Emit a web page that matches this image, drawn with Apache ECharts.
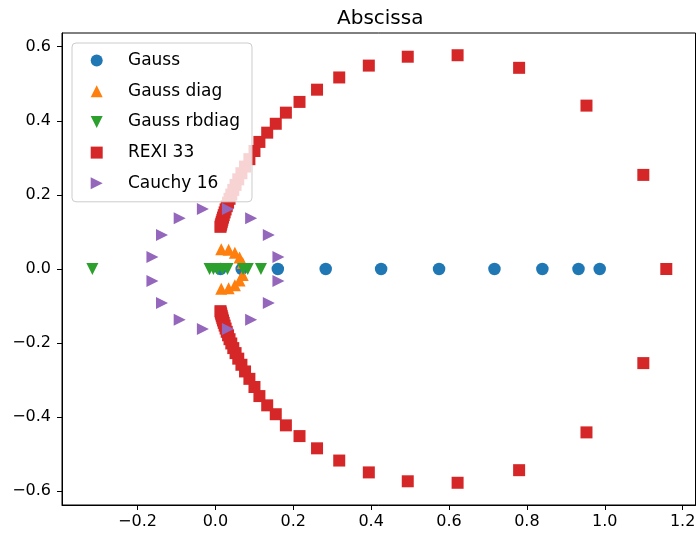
<!DOCTYPE html>
<html>
<head>
<meta charset="utf-8">
<script src="https://cdn.jsdelivr.net/npm/echarts@6/dist/echarts.min.js"></script>
<style>html,body{margin:0;padding:0;background:#fff;}#c{width:699px;height:534px;}</style>
</head>
<body>
<div id="c"></div>
<script>
// ---- data ----
const titleText = "Abscissa";
const seriesNames = ["Gauss", "Gauss diag", "Gauss rbdiag", "REXI 33", "Cauchy 16"];

const gaussX = [0.0130, 0.0675, 0.1603, 0.2833, 0.4256, 0.5744, 0.7167, 0.8397, 0.9325, 0.9870];
const gaussY = [0, 0, 0, 0, 0, 0, 0, 0, 0, 0];

const gaussDiagX = [0.015, 0.034, 0.050, 0.062, 0.070, 0.015, 0.034, 0.050, 0.062, 0.070];
const gaussDiagY = [0.053, 0.052, 0.044, 0.031, 0.016, -0.053, -0.052, -0.044, -0.031, -0.016];

const rbdiagX = [-0.316, -0.015, -0.005, 0.005, 0.018, 0.031, 0.071, 0.083, 0.117];
const rbdiagY = [0, 0, 0, 0, 0, 0, 0, 0, 0];

const rexiX = [1.158, 1.099, 0.953, 0.780, 0.622, 0.494, 0.394, 0.318, 0.261, 0.216, 0.181, 0.155, 0.133, 0.113,
  0.1003, 0.0873, 0.0761, 0.0668, 0.0587, 0.0518, 0.0459, 0.0408, 0.0363, 0.0325, 0.0291, 0.0262, 0.0237, 0.0214, 0.0195, 0.0178, 0.0163, 0.0151, 0.0139, 0.0130,
  1.099, 0.953, 0.780, 0.622, 0.494, 0.394, 0.318, 0.261, 0.216, 0.181, 0.155, 0.133, 0.113,
  0.1003, 0.0873, 0.0761, 0.0668, 0.0587, 0.0518, 0.0459, 0.0408, 0.0363, 0.0325, 0.0291, 0.0262, 0.0237, 0.0214, 0.0195, 0.0178, 0.0163, 0.0151, 0.0139, 0.0130];
const rexiY = [0, 0.254, 0.441, 0.543, 0.577, 0.573, 0.549, 0.517, 0.484, 0.451, 0.422, 0.392, 0.368, 0.343,
  0.3185, 0.2965, 0.2765, 0.2585, 0.242, 0.227, 0.2135, 0.201, 0.1895, 0.179, 0.1695, 0.1607, 0.1527, 0.1454, 0.1388, 0.1328, 0.1273, 0.1223, 0.1178, 0.1138,
  -0.254, -0.441, -0.543, -0.577, -0.573, -0.549, -0.517, -0.484, -0.451, -0.422, -0.392, -0.368, -0.343,
  -0.3185, -0.2965, -0.2765, -0.2585, -0.242, -0.227, -0.2135, -0.201, -0.1895, -0.179, -0.1695, -0.1607, -0.1527, -0.1454, -0.1388, -0.1328, -0.1273, -0.1223, -0.1178, -0.1138];

const cauchyX = [0.1618, 0.1372, 0.0917, 0.0322, -0.0322, -0.0917, -0.1372, -0.1618,
  -0.1618, -0.1372, -0.0917, -0.0322, 0.0322, 0.0917, 0.1372, 0.1618];
const cauchyY = [0.0322, 0.0917, 0.1372, 0.1618, 0.1618, 0.1372, 0.0917, 0.0322,
  -0.0322, -0.0917, -0.1372, -0.1618, -0.1618, -0.1372, -0.0917, -0.0322];

const xTicks = [-0.2, 0.0, 0.2, 0.4, 0.6, 0.8, 1.0, 1.2];
const yTicks = [-0.6, -0.4, -0.2, 0.0, 0.2, 0.4, 0.6];

// ---- chart ----
const FONT = "DejaVu Sans";
const zip = (xs, ys) => xs.map((x, i) => [x, ys[i]]);
const fmt = v => (Math.abs(v) < 1e-9 ? 0 : v).toFixed(1).replace('-', '\u2212');
const DOWN = 'path://M0,0L2,0L1,2Z';
const RIGHT = 'path://M0,0L2,1L0,2Z';
const legendIcons = ['circle', 'triangle', DOWN, 'rect', RIGHT];

const chart = echarts.init(document.getElementById('c'), null, {renderer: 'canvas'});
const option = {
  animation: false,
  backgroundColor: '#ffffff',
  title: {
    text: titleText, left: 332, top: 4,
    textStyle: {fontFamily: FONT, fontSize: 20, fontWeight: 'normal', color: '#000'}
  },
  grid: {left: 62, right: 3.5, top: 33, bottom: 29, show: true, borderColor: '#000', borderWidth: 1, backgroundColor: 'transparent'},
  legend: {
    orient: 'vertical', left: 72, top: 43,
    padding: [9, 12, 10, 18.7],
    itemWidth: 12, itemHeight: 12, itemGap: 13.7,
    backgroundColor: 'rgba(255,255,255,0.8)',
    borderColor: '#cccccc', borderWidth: 1, borderRadius: 4,
    textStyle: {fontFamily: FONT, fontSize: 17, color: '#000', lineHeight: 12, padding: [0, 0, 0, 20.3]},
    data: seriesNames.map((n, i) => ({name: n, icon: legendIcons[i]}))
  },
  xAxis: {
    type: 'value', min: -0.394, max: 1.233,
    axisLine: {show: true, onZero: false, lineStyle: {color: '#000'}},
    axisTick: {show: true, length: 5, inside: false, customValues: xTicks, lineStyle: {color: '#000'}},
    axisLabel: {customValues: xTicks, formatter: fmt, fontFamily: FONT, fontSize: 16, color: '#000', margin: 9},
    splitLine: {show: false}
  },
  yAxis: {
    type: 'value', min: -0.637, max: 0.637,
    axisLine: {show: true, onZero: false, lineStyle: {color: '#000'}},
    axisTick: {show: true, length: 5, inside: false, customValues: yTicks, lineStyle: {color: '#000'}},
    axisLabel: {customValues: yTicks, formatter: fmt, fontFamily: FONT, fontSize: 16, color: '#000', margin: 11},
    splitLine: {show: false}
  },
  series: [
    {name: seriesNames[0], type: 'scatter', data: zip(gaussX, gaussY), symbol: 'circle', symbolSize: 12.5, itemStyle: {color: '#1f77b4', opacity: 1}},
    {name: seriesNames[1], type: 'scatter', data: zip(gaussDiagX, gaussDiagY), symbol: 'triangle', symbolSize: 12, itemStyle: {color: '#ff7f0e', opacity: 1}},
    {name: seriesNames[2], type: 'scatter', data: zip(rbdiagX, rbdiagY), symbol: 'triangle', symbolRotate: 180, symbolSize: 12, itemStyle: {color: '#2ca02c', opacity: 1}},
    {name: seriesNames[3], type: 'scatter', data: zip(rexiX, rexiY), symbol: 'rect', symbolSize: 12, itemStyle: {color: '#d62728', opacity: 1}},
    {name: seriesNames[4], type: 'scatter', data: zip(cauchyX, cauchyY), symbol: 'triangle', symbolRotate: -90, symbolSize: 12, itemStyle: {color: '#9467bd', opacity: 1}}
  ]
};
chart.setOption(option);
</script>
</body>
</html>
